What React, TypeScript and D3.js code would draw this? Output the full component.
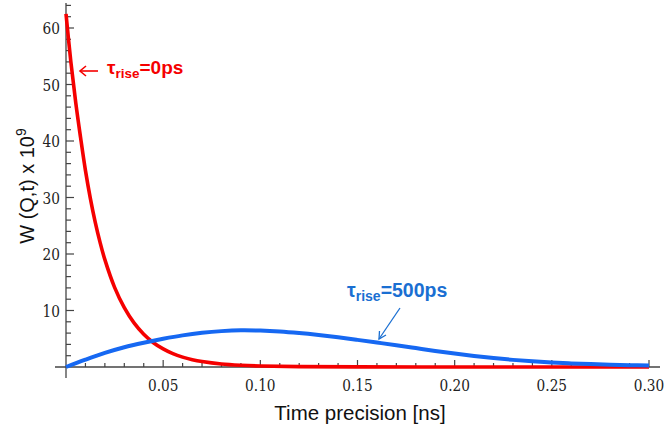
import React from "react";
import * as d3 from "d3";

// Red curve: tau_rise = 0 ps
const redT = [0, 0.0025, 0.005, 0.0075, 0.01, 0.0125, 0.015, 0.0175, 0.02, 0.025, 0.03, 0.035, 0.04, 0.045, 0.05, 0.055, 0.06, 0.065, 0.07, 0.08, 0.09, 0.1, 0.12, 0.15, 0.2, 0.25, 0.3];
const redW = [62.5, 54.0, 46.8, 40.6, 34.8, 29.9, 25.7, 22.1, 19.0, 14.1, 10.5, 7.8, 5.8, 4.3, 3.2, 2.36, 1.75, 1.3, 0.97, 0.53, 0.3, 0.17, 0.06, 0.02, 0.0, 0.0, 0.0];

// Blue curve: tau_rise = 500 ps
const blueT = [0, 0.01, 0.02, 0.03, 0.04, 0.05, 0.06, 0.07, 0.08, 0.09, 0.1, 0.11, 0.12, 0.13, 0.14, 0.15, 0.16, 0.17, 0.18, 0.19, 0.2, 0.21, 0.22, 0.23, 0.24, 0.25, 0.26, 0.27, 0.28, 0.29, 0.3];
const blueW = [0, 1.3, 2.5, 3.5, 4.3, 5.0, 5.6, 6.05, 6.35, 6.5, 6.45, 6.28, 6.0, 5.65, 5.25, 4.8, 4.33, 3.85, 3.35, 2.85, 2.38, 1.95, 1.58, 1.26, 1.0, 0.8, 0.64, 0.51, 0.41, 0.33, 0.27];

const xMajorTicks = [0.05, 0.1, 0.15, 0.2, 0.25, 0.3];
const xTickLabels = ["0.05", "0.10", "0.15", "0.20", "0.25", "0.30"];
const yMajorTicks = [10, 20, 30, 40, 50, 60];
const yTickLabels = ["10", "20", "30", "40", "50", "60"];

const RED = "#f50000";
const BLUE = "#1668f2";
const BLUE_TEXT = "#1a6fd2";
const AXIS = "#444";

export default function App() {
  const x = d3.scaleLinear().domain([0, 0.3]).range([66, 649]);
  const y = d3.scaleLinear().domain([0, 60]).range([367, 28]);

  const xMinor = d3.range(1, 30).map((i) => i * 0.01).filter((v) => Math.abs(Math.round(v * 20) - v * 20) > 1e-6);
  const yMinor = d3.range(1, 33).map((i) => i * 2).filter((v) => v % 10 !== 0);

  const line = d3
    .line<[number, number]>()
    .x((d) => x(d[0]))
    .y((d) => y(d[1]))
    .curve(d3.curveCatmullRom.alpha(0.5));

  const redPath = line(redT.map((t, i) => [t, redW[i]]) as [number, number][]) || "";
  const bluePath = line(blueT.map((t, i) => [t, blueW[i]]) as [number, number][]) || "";

  const font = "Liberation Sans, Arial, sans-serif";
  const serif = "DejaVu Serif";
  const sx = 0.83;

  return (
    <svg width={664} height={432} style={{ position: "absolute", left: 0, top: 0, background: "#fff" }}>
      <rect x={0} y={0} width={664} height={432} fill="#fff" />
      {/* axes */}
      <line x1={55} x2={660} y1={y(0)} y2={y(0)} stroke={AXIS} strokeWidth={1.3} />
      <line x1={x(0)} x2={x(0)} y1={3} y2={378} stroke={AXIS} strokeWidth={1.3} />
      {xMinor.map((v) => (
        <line key={"xm" + v} x1={x(v)} x2={x(v)} y1={y(0)} y2={y(0) - 4} stroke={AXIS} strokeWidth={1.2} />
      ))}
      {xMajorTicks.map((v) => (
        <line key={"xM" + v} x1={x(v)} x2={x(v)} y1={y(0)} y2={y(0) - 7} stroke={AXIS} strokeWidth={1.2} />
      ))}
      {yMinor.map((v) => (
        <line key={"ym" + v} x1={x(0)} x2={x(0) + 5} y1={y(v)} y2={y(v)} stroke={AXIS} strokeWidth={1.2} />
      ))}
      {yMajorTicks.map((v) => (
        <line key={"yM" + v} x1={x(0)} x2={x(0) + 8} y1={y(v)} y2={y(v)} stroke={AXIS} strokeWidth={1.2} />
      ))}
      {xMajorTicks.map((v, i) => (
        <text key={"xl" + v} transform={`translate(${x(v)},391) scale(${sx},1)`} textAnchor="middle" fontSize={16.5} fill="#222" fontFamily={serif}>
          {xTickLabels[i]}
        </text>
      ))}
      {yMajorTicks.map((v, i) => (
        <text key={"yl" + v} transform={`translate(60,${y(v) + 6}) scale(${sx},1)`} textAnchor="end" fontSize={16.5} fill="#222" fontFamily={serif}>
          {yTickLabels[i]}
        </text>
      ))}
      {/* axis titles */}
      <text x={360} y={420} textAnchor="middle" fontFamily={font} fontSize={20.5} fill="#111">
        Time precision [ns]
      </text>
      <text transform="translate(34,186) rotate(-90)" textAnchor="middle" fontFamily={font} fontSize={20} fill="#111">
        W (Q,t) x 10<tspan fontSize={14} dy={-8}>9</tspan>
      </text>
      {/* curves */}
      <path d={redPath} fill="none" stroke={RED} strokeWidth={3.6} strokeLinejoin="round" />
      <path d={bluePath} fill="none" stroke={BLUE} strokeWidth={4} strokeLinejoin="round" />
      {/* red annotation */}
      <g stroke={RED} strokeWidth={1.6} fill="none">
        <line x1={80} x2={98} y1={71} y2={71} />
        <polyline points="86,66 80,71 86,76" />
      </g>
      <text x={107} y={74} fontFamily={font} fontWeight="bold" fontSize={19} fill={RED}>
        τ<tspan fontSize={13.5} dy={4}>rise</tspan>
        <tspan dy={-4}>=0ps</tspan>
      </text>
      {/* blue annotation */}
      <text x={347} y={297} fontFamily={font} fontWeight="bold" fontSize={19.5} fill={BLUE_TEXT}>
        τ<tspan fontSize={14} dy={4}>rise</tspan>
        <tspan dy={-4}>=500ps</tspan>
      </text>
      <g stroke={BLUE_TEXT} strokeWidth={1.3} fill="none">
        <line x1={400} y1={308} x2={379} y2={339} />
        <polyline points="379.5,331 379,339 386,335" />
      </g>
    </svg>
  );
}
